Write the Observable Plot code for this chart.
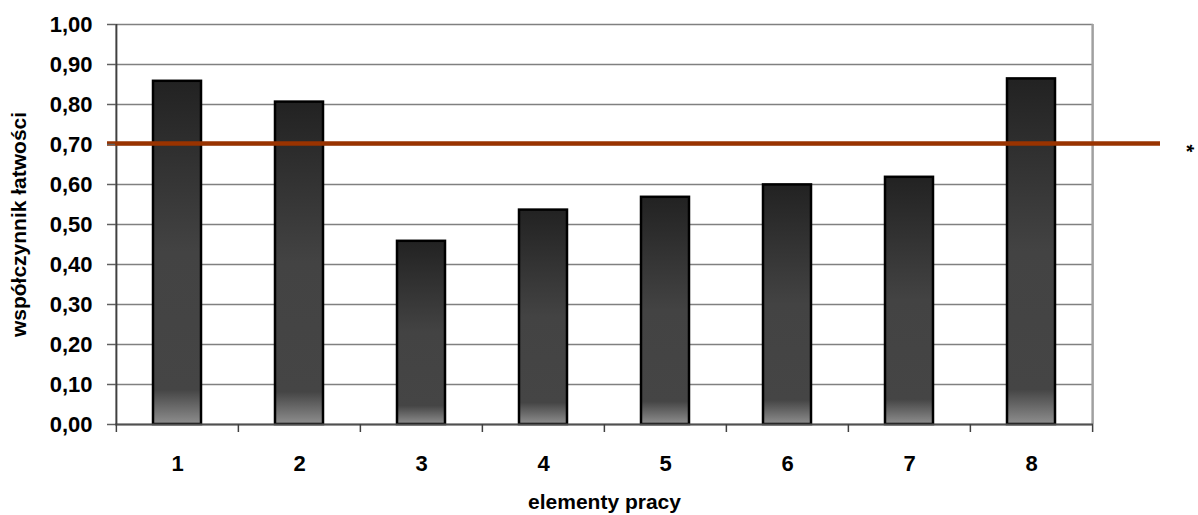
<!DOCTYPE html>
<html><head><meta charset="utf-8">
<script src="https://cdn.jsdelivr.net/npm/d3@7"></script>
<script src="https://cdn.jsdelivr.net/npm/@observablehq/plot@0.6"></script>
<style>body{margin:0;background:#fff} svg{display:block}</style>
</head><body><div id="chart"></div>
<script>
const categories = ["1","2","3","4","5","6","7","8"];
const values = [0.858, 0.806, 0.458, 0.536, 0.568, 0.599, 0.618, 0.864];
const threshold = [0.70];
const yTicks = [0.0, 0.1, 0.2, 0.3, 0.4, 0.5, 0.6, 0.7, 0.8, 0.9, 1.0];
const yLabel = ["współczynnik łatwości"];
const xLabel = ["elementy pracy"];
const legendText = ["*"];

const data = categories.map((c, i) => ({c, v: values[i]}));
const W = 1198, H = 515, mL = 115, mR = 105, mT = 24, mB = 91;
const half = (W - mL - mR) / categories.length / 2;
const font = "'Liberation Sans', Arial, sans-serif";

const defs = () => {
  const d = d3.create("svg:defs");
  const g = d.append("linearGradient").attr("id", "barGrad")
    .attr("x1", 0).attr("y1", 0).attr("x2", 0).attr("y2", 1);
  [[0, "#222222"], [0.5, "#434343"], [0.9, "#454545"], [1, "#8e8e8e"]]
    .forEach(([o, c]) => g.append("stop").attr("offset", o).attr("stop-color", c));
  return d.node();
};

const chart = Plot.plot({
  width: W, height: H,
  marginLeft: mL, marginRight: mR, marginTop: mT, marginBottom: mB,
  x: {domain: categories, padding: 0, label: null},
  y: {domain: [0, 1], label: null},
  style: {fontFamily: font, fontWeight: "bold", fontSize: "22px", color: "#000", background: "#fff"},
  marks: [
    defs,
    Plot.gridY(yTicks, {stroke: "#808080", strokeOpacity: 1, strokeWidth: 1.5}),
    Plot.ruleX([categories[categories.length - 1]], {dx: half, y1: 0, y2: 1, stroke: "#a0a0a0", strokeWidth: 2.5}),
    Plot.barY(data, {x: "c", y: "v", fill: "url(#barGrad)", stroke: "#000", strokeWidth: 2.5, insetLeft: 37, insetRight: 37}),
    Plot.ruleY([0], {stroke: "#505050", strokeWidth: 2}),
    Plot.ruleX([categories[0]], {dx: -half, y1: 0, y2: 1, stroke: "#404040", strokeWidth: 2}),
    Plot.ruleX(categories, {x: d => d, y1: 0, y2: 0, dx: -half, insetBottom: -8, stroke: "#404040", strokeWidth: 1.5}),
    Plot.ruleX([categories[categories.length - 1]], {y1: 0, y2: 0, dx: half, insetBottom: -8, stroke: "#404040", strokeWidth: 1.5}),
    Plot.ruleY(threshold, {stroke: "#993300", strokeWidth: 4.5, insetLeft: -8, insetRight: -67, dy: -1}),
    Plot.axisY(yTicks, {tickSize: 8, tickPadding: 15, stroke: "#606060", strokeWidth: 1.5, label: null,
      tickFormat: d => d.toFixed(2).replace(".", ","), fontSize: 22, fontWeight: "bold"}),
    Plot.axisX({tickSize: 0, tickPadding: 31, label: null, fontSize: 22, fontWeight: "bold"}),
    Plot.text(yLabel, {frameAnchor: "left", dx: -96, rotate: -90, textAnchor: "middle", lineAnchor: "middle", fontSize: 21, fontWeight: "bold"}),
    Plot.text(xLabel, {frameAnchor: "bottom", dy: 78, textAnchor: "middle", lineAnchor: "middle", fontSize: 21, fontWeight: "bold"}),
    Plot.text(legendText, {frameAnchor: "right", y: threshold, dx: 93, dy: 4, rotate: 90, textAnchor: "middle", lineAnchor: "middle", fontSize: 20, fontWeight: "bold"})
  ]
});
document.getElementById("chart").appendChild(chart);
</script>
</body></html>
